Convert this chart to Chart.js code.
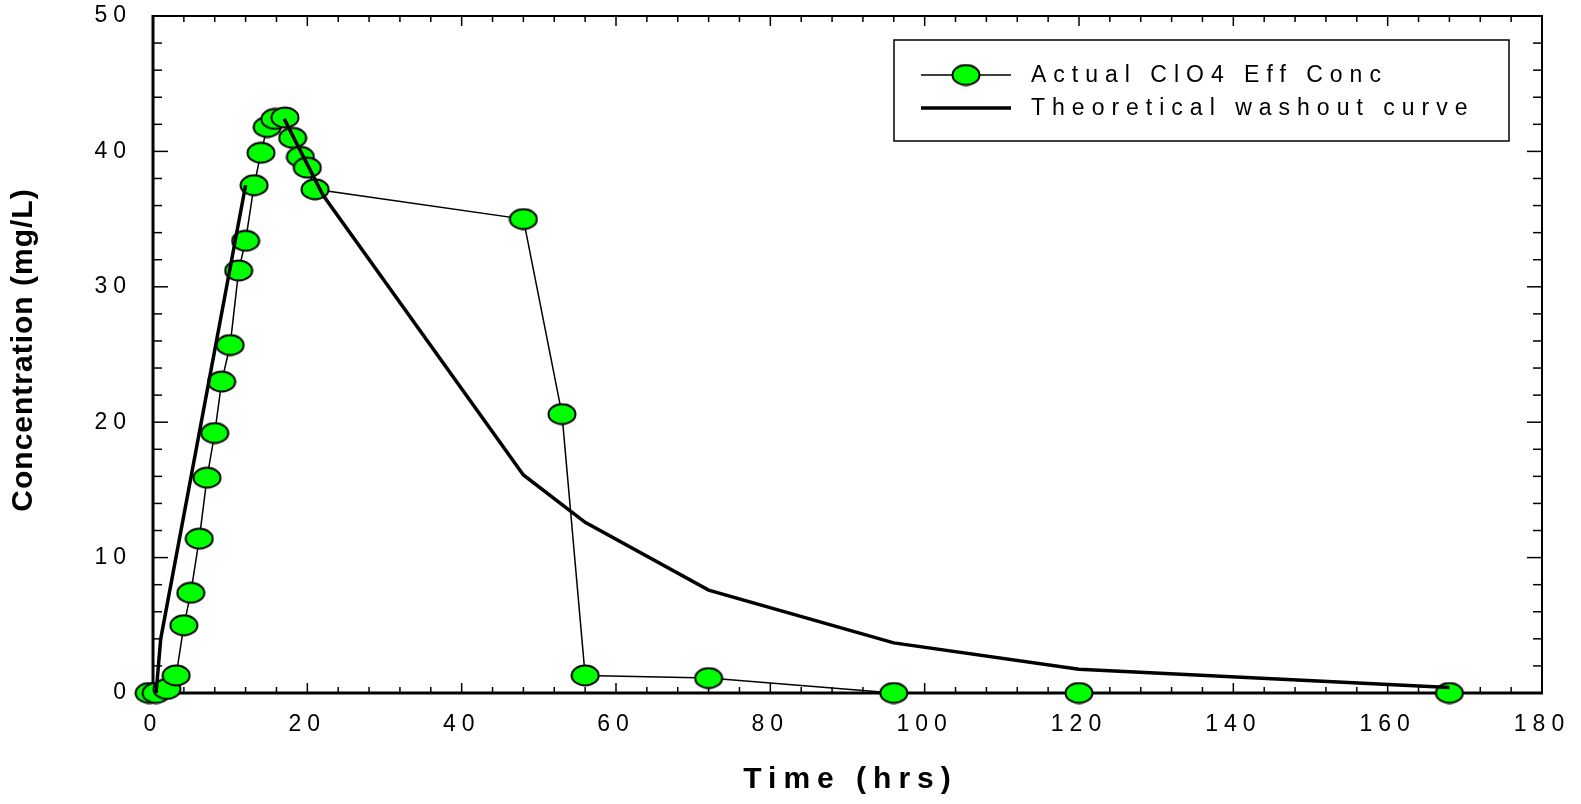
<!DOCTYPE html>
<html>
<head>
<meta charset="utf-8">
<script src="https://cdn.jsdelivr.net/npm/chart.js@4.4.0/dist/chart.umd.min.js"></script>
<style>
  html, body { margin: 0; padding: 0; background: #fff; }
  #wrap { width: 1581px; height: 804px; }
</style>
</head>
<body>
<div id="wrap"><canvas id="c" width="1581" height="804"></canvas></div>
<script>
// --- data ---
const actualTime = [-0.5, 0.4, 1.8, 3, 4, 4.9, 6, 7, 8, 8.9, 10, 11.1, 12, 13.1, 14, 14.8, 15.8, 17.1, 18.1, 19.1, 20, 21, 48, 53, 56, 72, 96, 120, 168];
const actualConc = [0, 0, 0.3, 1.3, 5.0, 7.4, 11.4, 15.9, 19.2, 23.0, 25.7, 31.2, 33.4, 37.5, 39.9, 41.8, 42.4, 42.5, 41.0, 39.6, 38.8, 37.2, 35.0, 20.6, 1.3, 1.1, 0, 0, 0];
const theoTime = [0.4, 1, 12, 14.5, 17, 22, 48, 56, 72, 96, 120, 168];
const theoConc = [0, 4, 37.5, null, 42.4, 36.8, 16.1, 12.6, 7.6, 3.7, 1.75, 0.4];
const xTicks = [0, 20, 40, 60, 80, 100, 120, 140, 160, 180];
const yTicks = [0, 10, 20, 30, 40, 50];

const FONT = '"Liberation Sans", Arial, sans-serif';
const $ = (sel) => document.querySelector(sel);

// ellipse marker (wider than tall, like the original)
function makeMarker() {
    const c = document.createElement('canvas');
    c.width = 30; c.height = 23;
    const g = c.getContext('2d');
    g.beginPath();
    g.ellipse(15, 11.5, 13.5, 10, 0, 0, Math.PI * 2);
    g.fillStyle = '#00ff00';
    g.fill();
    g.lineWidth = 2;
    g.strokeStyle = '#000';
    g.stroke();
    return c;
}
const marker = makeMarker();

function seg(ctx, x1, y1, x2, y2) { ctx.beginPath(); ctx.moveTo(x1, y1); ctx.lineTo(x2, y2); ctx.stroke(); }

function noPad(s) { s.paddingTop = 0; s.paddingBottom = 0; s.paddingLeft = 0; s.paddingRight = 0; }

// frame, inward ticks, titles and legend
const framePlugin = {
    id: 'frame',
    beforeDraw(chart) { chart.ctx.letterSpacing = '6px'; },
    beforeDatasetsDraw(chart) {
        const { ctx, chartArea: a, scales: { x, y } } = chart;
        ctx.save();
        ctx.strokeStyle = '#000';
        ctx.lineWidth = 1.5;
        for (let v = 0; v <= 180; v += 4) {
            const px = x.getPixelForValue(v), len = v % 20 === 0 ? 10 : 6;
            seg(ctx, px, a.bottom, px, a.bottom - len);
            seg(ctx, px, a.top, px, a.top + len);
        }
        for (let v = 0; v <= 50; v += 2) {
            const py = y.getPixelForValue(v), len = v % 10 === 0 ? 15 : 9;
            seg(ctx, a.left, py, a.left + len, py);
            seg(ctx, a.right, py, a.right - len, py);
        }
        ctx.lineWidth = 2;
        ctx.strokeRect(a.left, a.top, a.right - a.left, a.bottom - a.top);
        ctx.lineWidth = 3;
        seg(ctx, a.left, a.top - 1, a.left, a.bottom + 1);
        seg(ctx, a.left - 1, a.bottom, a.right + 1, a.bottom);
        ctx.restore();
    },
    afterDraw(chart) {
        const { ctx, chartArea: a } = chart;
        ctx.save();
        ctx.fillStyle = '#000';
        // x title
        ctx.letterSpacing = '7px';
        ctx.font = 'bold 30px ' + FONT;
        ctx.textAlign = 'center';
        ctx.textBaseline = 'middle';
        ctx.fillText('Time (hrs)', (a.left + a.right) / 2 + 3, 780);
        // y title
        ctx.letterSpacing = '1px';
        ctx.font = 'bold 30px ' + FONT;
        ctx.translate(24, 350);
        ctx.rotate(-Math.PI / 2);
        ctx.fillText('Concentration (mg/L)', 0, 0);
        ctx.restore();

        // legend
        ctx.save();
        const bx = 894, by = 40, bw = 615, bh = 101;
        ctx.fillStyle = '#fff';
        ctx.fillRect(bx, by, bw, bh);
        ctx.strokeStyle = '#000';
        ctx.lineWidth = 1.5;
        ctx.strokeRect(bx, by, bw, bh);
        const ds = chart.data.datasets;
        const rows = [75, 108];
        ds.forEach((d, i) => {
            ctx.lineWidth = d.borderWidth;
            seg(ctx, 921, rows[i], 1011, rows[i]);
            if (d.pointStyle instanceof HTMLCanvasElement) {
                ctx.drawImage(d.pointStyle, 966 - d.pointStyle.width / 2, rows[i] - d.pointStyle.height / 2);
            }
            ctx.letterSpacing = '7px';
            ctx.font = '23px ' + FONT;
            ctx.fillStyle = '#000';
            ctx.textAlign = 'left';
            ctx.textBaseline = 'middle';
            ctx.fillText(d.label, 1031, rows[i] + 1);
        });
        ctx.restore();
    }
};

function init() {
    const actual = actualTime.map((t, i) => ({ x: t, y: actualConc[i] }));
    const theo = theoTime.map((t, i) => ({ x: t, y: theoConc[i] }));

    new Chart($('#c'), {
        type: 'scatter',
        data: {
            datasets: [
                { label: 'Actual ClO4 Eff Conc', data: actual, showLine: true, borderColor: '#000', borderWidth: 1.5,
                  pointStyle: marker, pointRadius: 11, clip: false, order: 1 },
                { label: 'Theoretical washout curve', data: theo, showLine: true, borderColor: '#000', borderWidth: 3.5,
                  pointRadius: 0, spanGaps: false, clip: false, order: 0 }
            ]
        },
        options: {
            responsive: false,
            animation: false,
            layout: { padding: { top: 16, right: 39, left: 0, bottom: 0 } },
            plugins: { legend: { display: false }, tooltip: { enabled: false } },
            scales: {
                x: {
                    type: 'linear', min: 0, max: 180,
                    afterFit: (s) => { s.height = 111; noPad(s); },
                    afterBuildTicks: (s) => { s.ticks = xTicks.map(v => ({ value: v })); },
                    grid: { display: false, drawTicks: false },
                    border: { display: false },
                    ticks: { color: '#000', padding: 18, font: { family: FONT, size: 23 } }
                },
                y: {
                    type: 'linear', min: 0, max: 50,
                    afterFit: (s) => { s.width = 153; noPad(s); },
                    afterBuildTicks: (s) => { s.ticks = yTicks.map(v => ({ value: v })); },
                    grid: { display: false, drawTicks: false },
                    border: { display: false },
                    ticks: { color: '#000', padding: 21, font: { family: FONT, size: 23 } }
                }
            }
        },
        plugins: [framePlugin]
    });
}

document.addEventListener('DOMContentLoaded', init);
</script>
</body>
</html>
